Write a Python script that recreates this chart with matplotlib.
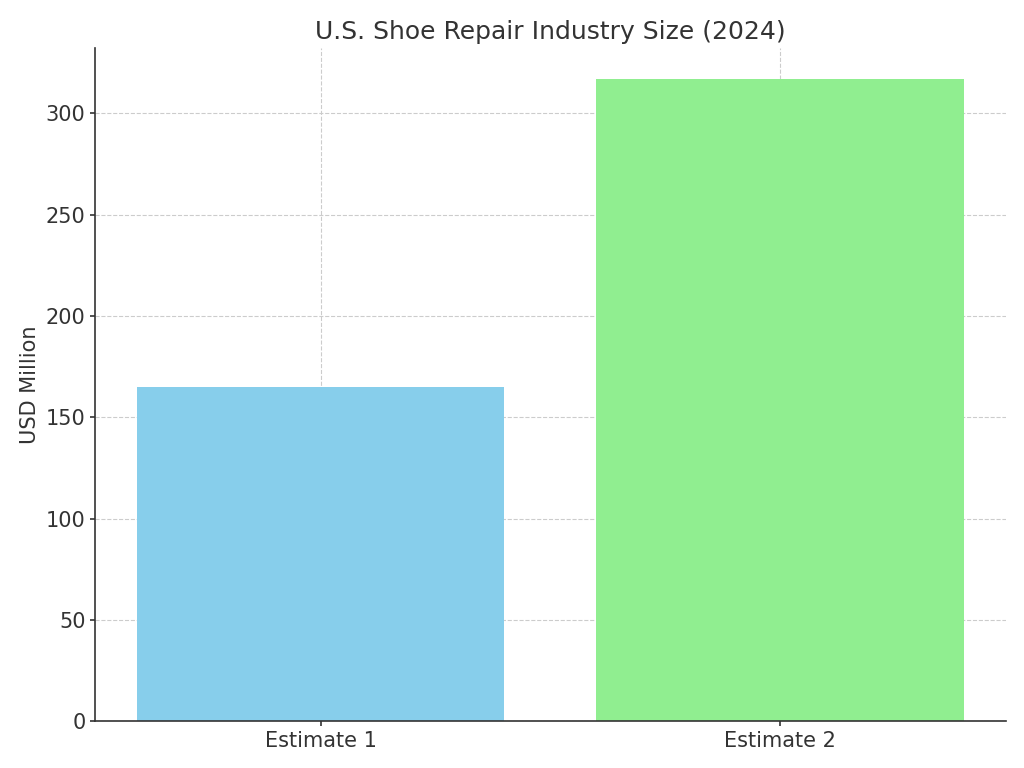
import matplotlib
matplotlib.use("Agg")
import matplotlib.pyplot as plt

categories = ["Estimate 1", "Estimate 2"]
values = [165, 317]
colors = ["skyblue", "lightgreen"]

plt.rcParams["font.family"] = ["DejaVu Sans"]
plt.rcParams["text.color"] = "#333333"
plt.rcParams["axes.labelcolor"] = "#333333"
plt.rcParams["xtick.color"] = "#333333"
plt.rcParams["ytick.color"] = "#333333"
plt.rcParams["axes.edgecolor"] = "#333333"

fig, ax = plt.subplots(figsize=(10.24, 7.68), dpi=100)
fig.subplots_adjust(left=0.093, right=0.982, top=0.937, bottom=0.061)

ax.bar(categories, values, color=colors, width=0.8, zorder=2)
ax.set_title("U.S. Shoe Repair Industry Size (2024)", fontsize=18, pad=7)
ax.set_ylabel("USD Million", fontsize=15)
ax.tick_params(labelsize=15, width=1.2)
ax.grid(True, linestyle="--", color="#cccccc", linewidth=0.8, zorder=0)
ax.spines["top"].set_visible(False)
ax.spines["right"].set_visible(False)
ax.spines["left"].set_linewidth(1.2)
ax.spines["bottom"].set_linewidth(1.2)
ax.set_ylim(0, 332)

fig.savefig("out.png", dpi=100)
